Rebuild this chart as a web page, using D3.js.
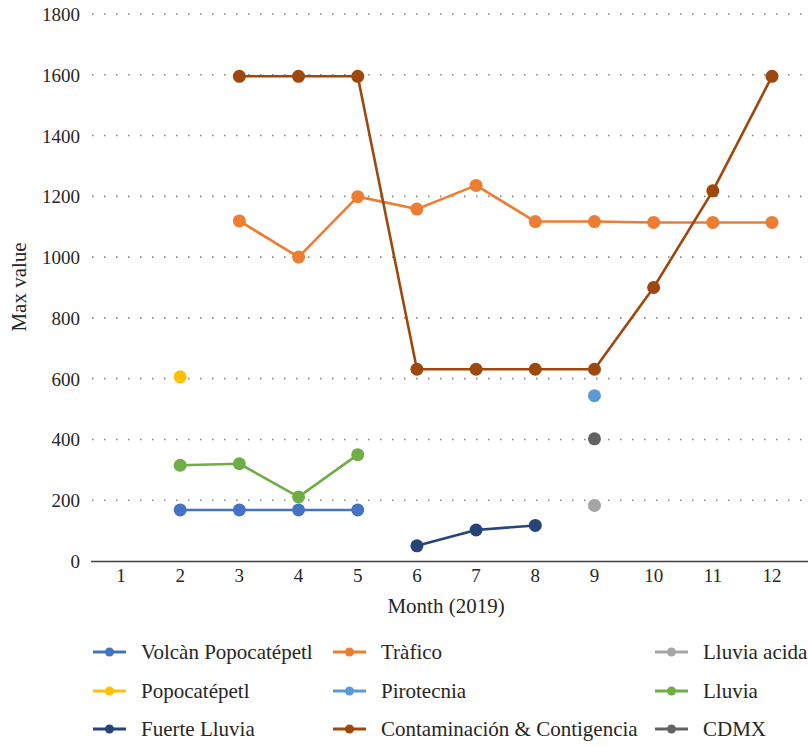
<!DOCTYPE html>
<html>
<head>
<meta charset="utf-8">
<script src="https://cdn.jsdelivr.net/npm/d3@7"></script>
<style>
  html, body { margin: 0; padding: 0; background: #fff; }
  svg text { font-family: "Liberation Serif", "Times New Roman", serif; fill: #262626; }
</style>
</head>
<body>
<svg id="chart" width="808" height="746"></svg>
<script>
// Months on the x axis
const months = [1, 2, 3, 4, 5, 6, 7, 8, 9, 10, 11, 12];
const yTicks = [0, 200, 400, 600, 800, 1000, 1200, 1400, 1600, 1800];

// Maximum value per month for each source (null = no reading)
const volcanPopocatepetl = [null, 168, 168, 168, 168, null, null, null, null, null, null, null];
const popocatepetl       = [null, 606, null, null, null, null, null, null, null, null, null, null];
const fuerteLluvia       = [null, null, null, null, null, 50, 102, 117, null, null, null, null];
const trafico            = [null, null, 1119, 1000, 1199, 1158, 1236, 1117, 1117, 1114, 1114, 1114];
const pirotecnia         = [null, null, null, null, null, null, null, null, 544, null, null, null];
const contaminacion      = [null, null, 1595, 1595, 1595, 631, 631, 631, 631, 900, 1218, 1595];
const lluviaAcida        = [null, null, null, null, null, null, null, null, 183, null, null, null];
const lluvia             = [null, 315, 320, 211, 350, null, null, null, null, null, null, null];
const cdmx               = [null, null, null, null, null, null, null, null, 402, null, null, null];

const seriesNames = ["Volcàn Popocatépetl", "Popocatépetl", "Fuerte Lluvia",
                     "Tràfico", "Pirotecnia", "Contaminación & Contigencia",
                     "Lluvia acida", "Lluvia", "CDMX"];
const seriesValues = [volcanPopocatepetl, popocatepetl, fuerteLluvia,
                      trafico, pirotecnia, contaminacion,
                      lluviaAcida, lluvia, cdmx];
const seriesColors = ["#4472C4", "#FFC000", "#264478",
                      "#ED7D31", "#5B9BD5", "#9E480E",
                      "#A5A5A5", "#70AD47", "#636363"];

const svg = d3.select("#chart");
const plotLeft = 91, plotRight = 808, plotTop = 14, plotBottom = 561;

const x = d3.scaleBand().domain(months).range([91.4, 801.6]).padding(0);
const y = d3.scaleLinear().domain([0, 1800]).range([plotBottom, plotTop]);
const cx = m => x(m) + x.bandwidth() / 2;

// Dotted horizontal gridlines
svg.append("g")
  .selectAll("line")
  .data(yTicks.filter(t => t > 0))
  .join("line")
  .attr("x1", plotLeft + 1).attr("x2", plotRight)
  .attr("y1", d => y(d)).attr("y2", d => y(d))
  .attr("stroke", "#8c8c8c")
  .attr("stroke-width", 1.6)
  .attr("stroke-dasharray", "1.6,10.4");

// Y axis labels
const yAxis = d3.axisLeft(y).tickValues(yTicks).tickSize(0).tickPadding(0).tickFormat(d3.format("d"));
const yG = svg.append("g").attr("transform", `translate(${plotLeft - 11},0)`).call(yAxis);
yG.attr("font-family", null).attr("font-size", null);
yG.select(".domain").remove();
yG.selectAll("text").attr("font-size", 19).attr("dy", "0.34em");

// X axis
const xAxis = d3.axisBottom(x).tickSize(0).tickPadding(0);
const xG = svg.append("g").attr("transform", `translate(0,${plotBottom})`).call(xAxis);
xG.attr("font-family", null).attr("font-size", null);
xG.select(".domain").remove();
xG.selectAll("text").attr("font-size", 19).attr("dy", "1.1em");
svg.append("line")
  .attr("x1", plotLeft).attr("x2", plotRight)
  .attr("y1", plotBottom + 0.5).attr("y2", plotBottom + 0.5)
  .attr("stroke", "#404040").attr("stroke-width", 1.5);

// Axis titles
svg.append("text")
  .attr("x", 446).attr("y", 613)
  .attr("text-anchor", "middle").attr("font-size", 21)
  .text("Month (2019)");
svg.append("text")
  .attr("transform", "translate(26,287) rotate(-90)")
  .attr("text-anchor", "middle").attr("font-size", 21)
  .text("Max value");

// Lines and markers
const line = d3.line()
  .defined(d => d.v !== null)
  .x(d => cx(d.m))
  .y(d => y(d.v));

seriesValues.forEach((vals, i) => {
  const pts = months.map((m, j) => ({ m, v: vals[j] }));
  const g = svg.append("g");
  g.append("path")
    .datum(pts)
    .attr("fill", "none")
    .attr("stroke", seriesColors[i])
    .attr("stroke-width", 2.6)
    .attr("stroke-linejoin", "round")
    .attr("d", line);
  g.selectAll("circle")
    .data(pts.filter(d => d.v !== null))
    .join("circle")
    .attr("cx", d => cx(d.m))
    .attr("cy", d => y(d.v))
    .attr("r", 6.5)
    .attr("fill", seriesColors[i]);
});

// Legend: three columns, three rows
const legendCols = [93, 333, 655];
const legendRows = [652, 691, 729];
seriesNames.forEach((name, i) => {
  const col = Math.floor(i / 3), row = i % 3;
  const g = svg.append("g").attr("transform", `translate(${legendCols[col]},${legendRows[row]})`);
  g.append("line").attr("x1", 0).attr("x2", 33).attr("y1", 0).attr("y2", 0)
    .attr("stroke", seriesColors[i]).attr("stroke-width", 3);
  g.append("circle").attr("cx", 16.5).attr("cy", 0).attr("r", 4.5).attr("fill", seriesColors[i]);
  g.append("text").attr("x", 48).attr("y", 0).attr("dy", "0.34em")
    .attr("font-size", 21).text(name);
});
</script>
</body>
</html>
